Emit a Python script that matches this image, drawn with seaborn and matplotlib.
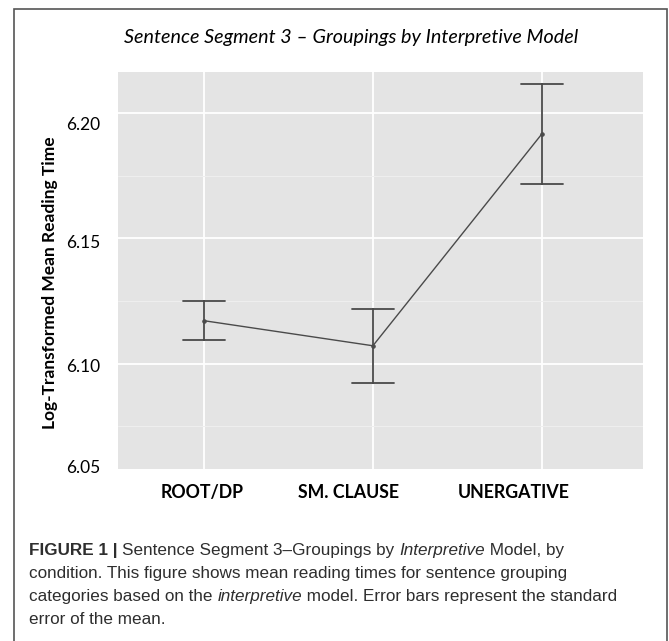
import matplotlib
matplotlib.use("Agg")
import matplotlib.pyplot as plt
import matplotlib.transforms as mtransforms
from matplotlib.patches import Rectangle
from matplotlib.ticker import FixedLocator
import seaborn as sns
import pandas as pd

# values
conditions = ["ROOT/DP", "SM. CLAUSE", "UNERGATIVE"]
means = [6.1171, 6.1071, 6.1916]
std_errors = [0.0078, 0.0148, 0.0200]
ytick_values = [6.0579, 6.10, 6.15, 6.20]
ytick_labels = ["6.05", "6.10", "6.15", "6.20"]
minor_values = [6.075, 6.125, 6.175]

title = "Sentence Segment 3 \u2013 Groupings by Interpretive Model"
ylabel = "Log-Transformed Mean Reading Time"
caption_lines = [
    [("FIGURE 1 | ", "bold", "normal"),
     ("Sentence Segment 3\u2013Groupings by ", "normal", "normal"),
     ("Interpretive", "normal", "italic"),
     (" Model, by", "normal", "normal")],
    [("condition. This figure shows mean reading times for sentence grouping", "normal", "normal")],
    [("categories based on the ", "normal", "normal"),
     ("interpretive", "normal", "italic"),
     (" model. Error bars represent the standard", "normal", "normal")],
    [("error of the mean.", "normal", "normal")],
]

# mean +/- se as two rows per condition, so the error bar is just the range
rows = []
for c, m, s in zip(conditions, means, std_errors):
    rows.append({"condition": c, "rt": m - s})
    rows.append({"condition": c, "rt": m + s})
df = pd.DataFrame(rows)

sns.set_style("darkgrid", {"axes.facecolor": "#e4e4e4", "grid.color": "white"})
plt.rcParams['font.family'] = ['Lato', 'DejaVu Sans']

W, H = 669, 641
fig = plt.figure(figsize=(W / 100, H / 100), dpi=100)
ax = fig.add_axes([118 / W, 1 - 469 / H, (643 - 118) / W, (469 - 72) / H])

sns.pointplot(data=df, x="condition", y="rt", order=conditions,
              estimator="mean", errorbar=lambda v: (v.min(), v.max()),
              capsize=0.25, color="#4a4a4a", markers="o", markersize=2.5,
              linewidth=1.0, err_kws={"linewidth": 1.3}, ax=ax)

ax.set_xlim(-0.51, 2.6)
ax.set_ylim(ytick_values[0], 6.2164)
ax.set_yticks(ytick_values)
ax.set_yticklabels(ytick_labels)
ax.yaxis.set_minor_locator(FixedLocator(minor_values))
ax.grid(True, which="major", axis="both", color="white", linewidth=1.3)
ax.grid(True, which="minor", axis="y", color="#efefef", linewidth=0.7)
ax.yaxis.get_gridlines()[0].set_visible(False)
ax.set_axisbelow(True)
for sp in ax.spines.values():
    sp.set_visible(False)
ax.set_xlabel("")
ax.set_ylabel("")
ax.tick_params(axis="both", which="both", length=0)
ax.tick_params(axis="x", pad=11, labelsize=12.8, labelcolor="black")
ax.tick_params(axis="y", pad=13, labelsize=12.5, labelcolor="black")
for lab in ax.get_xticklabels():
    lab.set_fontweight("bold")

# the tick labels in the reference sit a little off their gridlines
x_nudge_px = [-2, -24, -28]
y_nudge_px = [2, -1.5, -3, -10]
for lab, dx in zip(ax.get_xticklabels(), x_nudge_px):
    lab.set_transform(lab.get_transform() + mtransforms.ScaledTranslation(dx / 100, 0, fig.dpi_scale_trans))
for lab, dy in zip(ax.get_yticklabels(), y_nudge_px):
    lab.set_transform(lab.get_transform() + mtransforms.ScaledTranslation(0, dy / 100, fig.dpi_scale_trans))

fig.text(351 / W, 1 - 37 / H, title, ha="center", va="center",
         fontsize=14.2, fontstyle="italic", color="black")
fig.text(50 / W, 1 - 283 / H, ylabel, rotation=90, ha="center", va="center",
         fontsize=12.5, fontweight="bold", color="black")

# caption, drawn piece by piece so bold / italic runs line up
renderer = fig.canvas.get_renderer()
cap_font = ["Liberation Sans", "DejaVu Sans"]
baselines = [555, 578, 601, 624]
for line, base in zip(caption_lines, baselines):
    x = 29
    for txt, weight, style in line:
        t = fig.text(x / W, 1 - base / H, txt, ha="left", va="baseline",
                     fontsize=12.3, fontweight=weight, fontstyle=style,
                     family=cap_font, color="#2e2e2e")
        x = t.get_window_extent(renderer).x1

fig.add_artist(Rectangle((14 / W, -0.1), (667 - 14) / W, (641 - 9) / H + 0.1,
                         transform=fig.transFigure, fill=False,
                         edgecolor="#555555", linewidth=1.2, clip_on=False))

fig.savefig("out.png", dpi=100)
